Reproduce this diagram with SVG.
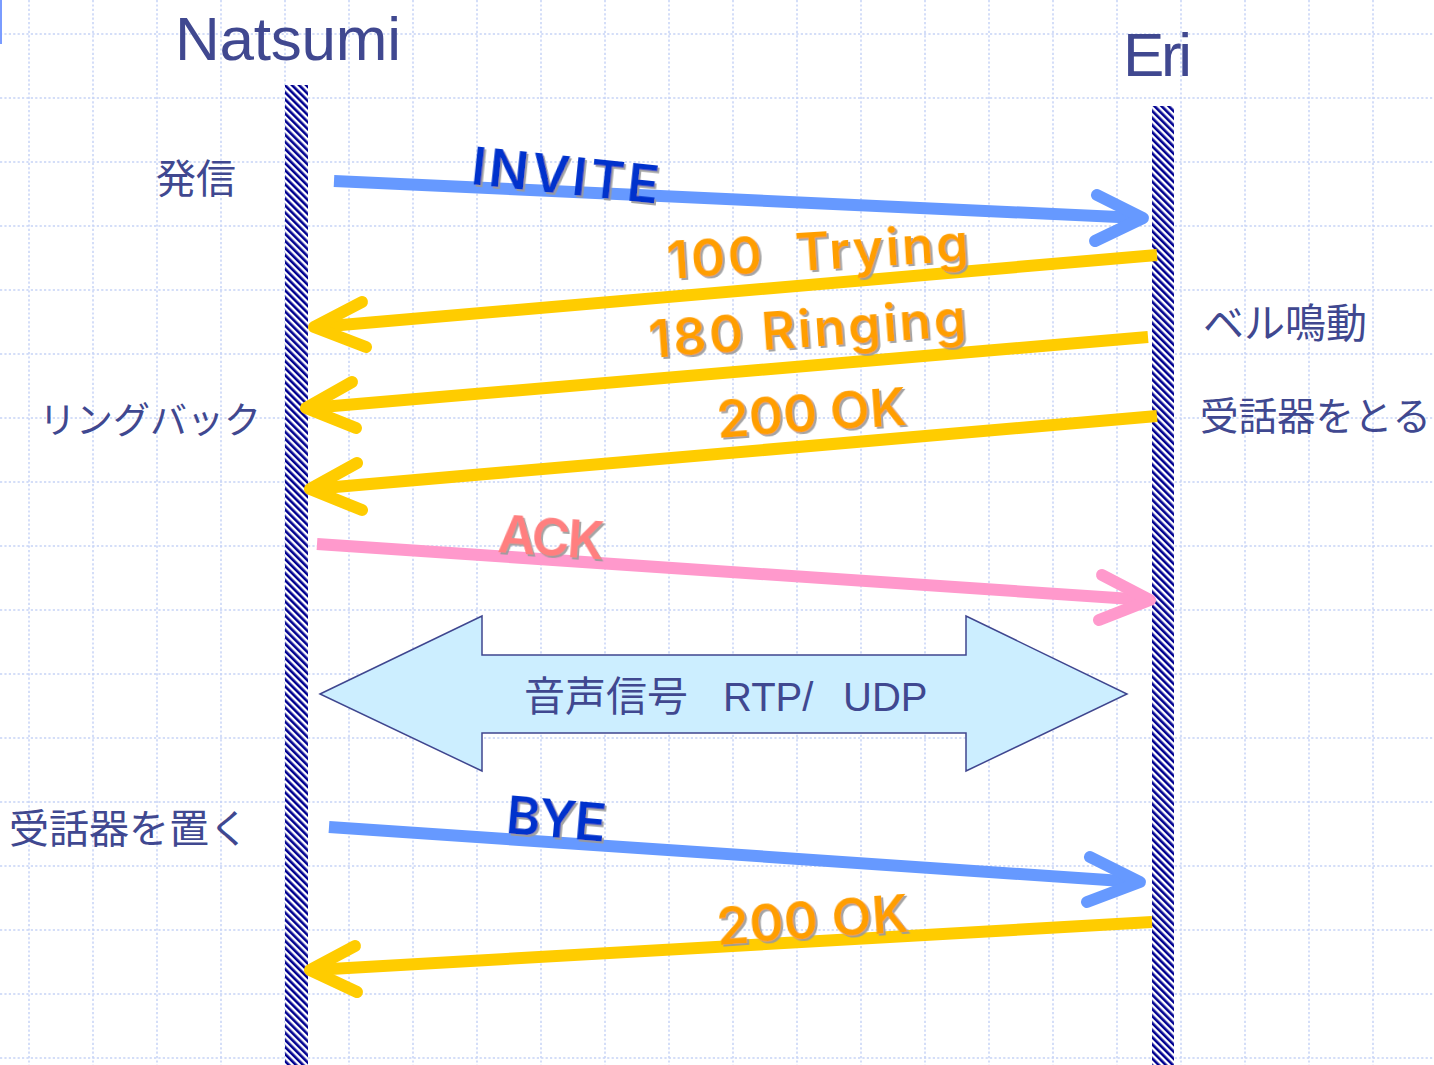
<svg xmlns="http://www.w3.org/2000/svg" width="1434" height="1065" viewBox="0 0 1434 1065">
<defs>
<pattern id="hatch" width="5" height="5" patternUnits="userSpaceOnUse" patternTransform="rotate(-45)">
<rect x="0" y="0" width="5" height="5" fill="#ffffff"/>
<rect x="0" y="0" width="2.6" height="5" fill="#000090"/>
</pattern>
<filter id="sh" x="-10%" y="-30%" width="130%" height="160%">
<feDropShadow dx="2" dy="2" stdDeviation="0.6" flood-color="#9a9a9a" flood-opacity="0.9"/>
</filter>
<style>
.grid line{stroke:#c6d3f6;stroke-width:1.5;stroke-dasharray:2.2 2.2}
.lbl{font-family:"Liberation Sans","Noto Sans CJK JP",sans-serif;fill:#404890}
.jp{font-family:"Noto Sans CJK JP","Liberation Sans",sans-serif;fill:#404890}
.msg{font-family:Inter,"DejaVu Sans",sans-serif;font-weight:600;font-size:52px;filter:url(#sh)}
.conn path{fill:none;stroke-width:12}
.blue{stroke:#6699ff}
.yel{stroke:#ffcc00}
.pink{stroke:#ff99cc}
.head{stroke-linecap:round;stroke-linejoin:round}
</style>
</defs>
<rect width="1434" height="1065" fill="#ffffff"/>
<g class="grid">
<line x1="29" y1="0" x2="29" y2="1065"/><line x1="93" y1="0" x2="93" y2="1065"/><line x1="157" y1="0" x2="157" y2="1065"/><line x1="221" y1="0" x2="221" y2="1065"/><line x1="285" y1="0" x2="285" y2="1065"/><line x1="349" y1="0" x2="349" y2="1065"/><line x1="413" y1="0" x2="413" y2="1065"/><line x1="477" y1="0" x2="477" y2="1065"/><line x1="541" y1="0" x2="541" y2="1065"/><line x1="605" y1="0" x2="605" y2="1065"/><line x1="669" y1="0" x2="669" y2="1065"/><line x1="733" y1="0" x2="733" y2="1065"/><line x1="797" y1="0" x2="797" y2="1065"/><line x1="861" y1="0" x2="861" y2="1065"/><line x1="925" y1="0" x2="925" y2="1065"/><line x1="989" y1="0" x2="989" y2="1065"/><line x1="1053" y1="0" x2="1053" y2="1065"/><line x1="1117" y1="0" x2="1117" y2="1065"/><line x1="1181" y1="0" x2="1181" y2="1065"/><line x1="1245" y1="0" x2="1245" y2="1065"/><line x1="1309" y1="0" x2="1309" y2="1065"/><line x1="1373" y1="0" x2="1373" y2="1065"/>
<line x1="0" y1="34" x2="1434" y2="34"/><line x1="0" y1="98" x2="1434" y2="98"/><line x1="0" y1="162" x2="1434" y2="162"/><line x1="0" y1="226" x2="1434" y2="226"/><line x1="0" y1="290" x2="1434" y2="290"/><line x1="0" y1="354" x2="1434" y2="354"/><line x1="0" y1="418" x2="1434" y2="418"/><line x1="0" y1="482" x2="1434" y2="482"/><line x1="0" y1="546" x2="1434" y2="546"/><line x1="0" y1="610" x2="1434" y2="610"/><line x1="0" y1="674" x2="1434" y2="674"/><line x1="0" y1="738" x2="1434" y2="738"/><line x1="0" y1="802" x2="1434" y2="802"/><line x1="0" y1="866" x2="1434" y2="866"/><line x1="0" y1="930" x2="1434" y2="930"/><line x1="0" y1="994" x2="1434" y2="994"/><line x1="0" y1="1058" x2="1434" y2="1058"/>
</g>
<rect x="0" y="0" width="2" height="44" fill="#7a9cff"/>

<g id="natsumi">
<text class="lbl" x="175" y="60" font-size="62" textLength="226">Natsumi</text>
<rect x="285" y="85" width="23" height="980" fill="url(#hatch)"/>
</g>
<g id="eri">
<text class="lbl" x="1123" y="76" font-size="62" textLength="69">Eri</text>
<rect x="1152" y="106" width="22" height="959" fill="url(#hatch)"/>
</g>

<g id="label-hasshin"><text class="jp" x="156" y="193" font-size="40">発信</text></g>
<g id="label-ringback"><text class="jp" x="39" y="434" font-size="37">リングバック</text></g>
<g id="label-bell"><text class="jp" x="1203" y="338" font-size="41">ベル鳴動</text></g>
<g id="label-pickup"><text class="jp" x="1200" y="430" font-size="38.5">受話器をとる</text></g>
<g id="label-hangup"><text class="jp" x="9" y="843" font-size="40">受話器を置く</text></g>

<g id="rtp">
<polygon points="320,694 482,616 482,655 966,655 966,616 1127,694 966,771 966,733 482,733 482,771" fill="#cceeff" stroke="#3f468f" stroke-width="1.5"/>
<text class="lbl" y="711" font-size="40"><tspan x="524" font-family="Noto Sans CJK JP, sans-serif" font-size="41">音声信号</tspan><tspan x="723">RTP/</tspan><tspan x="843">UDP</tspan></text>
</g>

<g class="conn" id="connectors">
<g id="invite">
<path class="blue" d="M334,181 L1140,218"/>
<path class="blue head" d="M1097,195 L1143,218 L1095,241"/>
</g>
<g id="trying">
<path class="yel" d="M1157,255 L318,327"/>
<path class="yel head" d="M362,302 L314,327 L366,347"/>
</g>
<g id="ringing">
<path class="yel" d="M1148,337 L310,408"/>
<path class="yel head" d="M352,382 L306,408 L356,428"/>
</g>
<g id="ok1">
<path class="yel" d="M1157,416 L312,489"/>
<path class="yel head" d="M357,463 L310,489 L362,510"/>
</g>
<g id="ack">
<path class="pink" d="M317,544 L1147,600"/>
<path class="pink head" d="M1102,575 L1150,600 L1099,620"/>
</g>
<g id="bye">
<path class="blue" d="M329,827 L1137,882"/>
<path class="blue head" d="M1090,857 L1140,882 L1087,902"/>
</g>
<g id="ok2">
<path class="yel" d="M1152,922 L313,970"/>
<path class="yel head" d="M355,946 L310,970 L357,992"/>
</g>
</g>

<g id="msg-labels">
<text class="msg" fill="#0033cc" x="470" y="184" textLength="188" transform="rotate(6 470 184)">INVITE</text>
<text class="msg" fill="#ff9e00" x="668" y="279" textLength="302" transform="rotate(-3.5 668 279)">100&#160; Trying</text>
<text class="msg" fill="#ff9e00" x="650" y="358" textLength="318" transform="rotate(-4 650 358)">180 Ringing</text>
<text class="msg" fill="#ff9e00" x="718" y="438" textLength="190" transform="rotate(-4 718 438)">200 OK</text>
<text class="msg" fill="#ff7f7f" x="497" y="552" textLength="106" transform="rotate(4 497 552)">ACK</text>
<text class="msg" fill="#0033cc" x="505" y="833" textLength="100" transform="rotate(5 505 833)">BYE</text>
<text class="msg" fill="#ff9e00" x="718" y="945" textLength="192" transform="rotate(-4 718 945)">200 OK</text>
</g>
</svg>
